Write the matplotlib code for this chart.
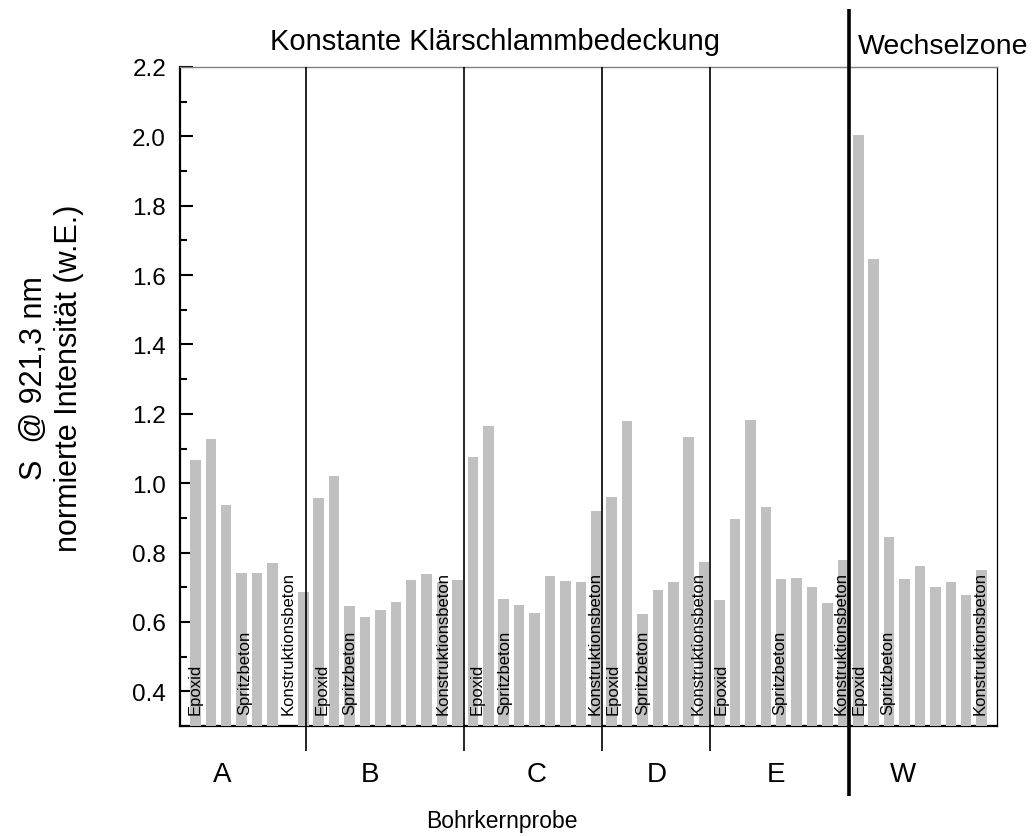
import numpy as np
import matplotlib
matplotlib.use("Agg")
import matplotlib.pyplot as plt
from matplotlib.ticker import MultipleLocator

plt.rcParams['font.family'] = ['Liberation Sans', 'DejaVu Sans']

# Messwerte je Bohrkernprobe (eine Zeile pro Probe, NaN = kein Wert)
werte_A = [1.068, 1.127, 0.938, 0.740, 0.741, 0.771, np.nan, 0.686]
werte_B = [0.958, 1.020, 0.647, 0.614, 0.634, 0.657, 0.721, 0.737, 0.716, 0.721]
werte_C = [1.075, 1.164, 0.665, 0.648, 0.627, 0.732, 0.717, 0.714, 0.920]
werte_D = [0.960, 1.179, 0.622, 0.693, 0.715, 1.132, 0.773]
werte_E = [0.663, 0.896, 1.181, 0.931, 0.725, 0.728, 0.700, 0.656, 0.780]
werte_W = [2.005, 1.646, 0.845, 0.725, 0.762, 0.700, 0.715, 0.677, 0.750]

proben = ['A', 'B', 'C', 'D', 'E', 'W']
proben_x = [1.72, 11.33, 22.16, 29.94, 37.66, 45.9]      # Lage der Probenbuchstaben
trenner_x = [7.17, 17.42, 26.38, 33.38]                  # duenne Trennlinien
wechsel_x = 42.4                                         # dicke Linie Wechselzone

# Schichtbeschriftungen (Text, Position auf der x-Achse)
schicht_text = ['Epoxid', 'Spritzbeton', 'Konstruktionsbeton'] * 6
schicht_x = [0, 3.2, 6,
             8.2, 10, 16.1,
             18.3, 20.1, 25.9,
             27.1, 29, 32.6,
             34.1, 37.9, 41.9,
             43.05, 44.9, 50.9]

werte = werte_A + werte_B + werte_C + werte_D + werte_E + werte_W
x = np.arange(len(werte))

fig = plt.figure(figsize=(10.32, 8.37), dpi=100)
ax = fig.add_axes([180/1032, 1-727/837, 817/1032, 659/837])

ax.bar(x, werte, width=0.68, bottom=0, color='#c0c0c0', zorder=3)

ax.set_xlim(-1, 52)
ax.set_ylim(0.3, 2.2)
ax.set_xticks([])
ax.yaxis.set_major_locator(MultipleLocator(0.2))
ax.yaxis.set_minor_locator(MultipleLocator(0.1))
ax.yaxis.set_major_formatter(plt.FormatStrFormatter('%.1f'))
ax.tick_params(axis='y', which='major', direction='in', length=9.4, width=1.5,
               labelsize=17.5, pad=10)
ax.tick_params(axis='y', which='minor', direction='in', length=5, width=1.5)

ax.spines['left'].set_linewidth(1.6)
ax.spines['bottom'].set_linewidth(1.6)
ax.spines['top'].set_linewidth(1.0)
ax.spines['top'].set_color('#808080')
ax.spines['right'].set_linewidth(0.9)

# Trennlinien zwischen den Proben
ax.vlines(trenner_x, 0.229, 2.2, colors='black', linewidth=1.2, zorder=4, clip_on=False)
ax.vlines(wechsel_x, 0.099, 2.368, colors='black', linewidth=2.6, zorder=4, clip_on=False)

# Schichtbezeichnungen in den Balken
for t, xp in zip(schicht_text, schicht_x):
    ax.text(xp, 0.335, t, rotation=90, ha='center', va='bottom', fontsize=12, zorder=5)

# Probenbuchstaben unter der Achse
for p, xp in zip(proben, proben_x):
    ax.text(xp, 0.163, p, ha='center', va='center', fontsize=20, clip_on=False)

ax.text(19.43, 2.275, 'Konstante Klärschlammbedeckung', ha='center', va='center',
        fontsize=21, clip_on=False)
ax.text(42.98, 2.26, 'Wechselzone', ha='left', va='center', fontsize=20.5, clip_on=False)

fig.text(502/1032, 1-822/837, 'Bohrkernprobe', ha='center', va='center', fontsize=16.5)
fig.text(34/1032, 1-378/837, 'S  @ 921,3 nm', rotation=90, ha='center', va='center',
         fontsize=22)
fig.text(69/1032, 1-378/837, 'normierte Intensität (w.E.)', rotation=90, ha='center',
         va='center', fontsize=22)

fig.savefig('out.png', dpi=100)
